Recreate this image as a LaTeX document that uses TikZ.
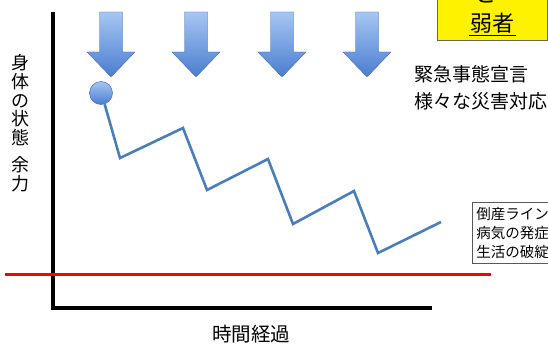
\documentclass[tikz,border=0pt]{standalone}
\usepackage{fontspec}
\setmainfont{Noto Sans CJK JP}
\definecolor{arrowtop}{HTML}{A6C6F4}
\definecolor{arrowbot}{HTML}{4A7DCF}
\definecolor{zigblue}{HTML}{4A7EBB}
\definecolor{ballline}{HTML}{3F6FBE}
\begin{document}
\begin{tikzpicture}[x=1pt,y=-1pt,
  axis/.style={line width=3.6pt, black, line join=miter},
  redline/.style={line width=3pt, red},
  zig/.style={line width=2.6pt, zigblue, line join=miter},
  bigarrow/.style={top color=arrowtop, bottom color=arrowbot, draw=arrowbot!80!black, line width=0.3pt},
  ball/.style={circle, minimum size=23pt, inner sep=0pt, top color=arrowtop, bottom color=arrowbot, draw=ballline, line width=0.5pt},
  lbl/.style={inner sep=0pt, text=black}
]
\useasboundingbox (0,0) rectangle (548,345);
\begin{scope}
\clip (0,0) rectangle (548,345);

% block arrows
\foreach \c in {111,196,282,367}{
  \shade[bigarrow] (\c-11.5,12) -- (\c+11.5,12) -- (\c+11.5,52) -- (\c+24,52)
    -- (\c,77) -- (\c-24,52) -- (\c-11.5,52) -- cycle;
}

% axes
\coordinate (ytop) at (53,12);
\coordinate (origin) at (53,308);
\coordinate (xend) at (432,308);
\draw[axis] (ytop) -- (origin) -- (xend);

% red line
\coordinate (r1) at (5,274);
\coordinate (r2) at (491,274);
\draw[redline] (r1) -- (r2);

% ball and zigzag
\node[ball] (ball) at (101,93) {};
\coordinate (z1) at (120,158);
\coordinate (z2) at (183,128);
\coordinate (z3) at (207,190);
\coordinate (z4) at (268,159);
\coordinate (z5) at (293,224);
\coordinate (z6) at (354,191);
\coordinate (z7) at (378,253);
\coordinate (z8) at (441,222);
\draw[zig] (ball.-72) -- (z1) -- (z2) -- (z3) -- (z4) -- (z5) -- (z6) -- (z7) -- (z8);

% top right yellow box
\node[draw=black!60, fill=yellow, line width=0.6pt, minimum width=110pt, minimum height=50pt, anchor=south west, inner sep=0pt] (ybox) at (437,41) {};
\node[lbl, font=\fontsize{22}{26}\selectfont] (weak) at (492,23) {弱者};
\coordinate (ul1) at (469,35.5);
\coordinate (ul2) at (516,35.5);
\draw[line width=1pt, black] (ul1) -- (ul2);
\node[lbl, font=\fontsize{22}{26}\selectfont] (to) at (485,-6) {と};

% emergency text
\node[lbl, anchor=west, align=left, font=\fontsize{19}{27}\selectfont] (emerg) at (414,88) {緊急事態宣言\\様々な災害対応};

% lower right box
\node[draw=black!65, fill=white, line width=0.6pt, anchor=north west, minimum height=61pt, text width=95pt, inner xsep=4pt, inner ysep=0pt, align=left, font=\fontsize{14.5}{19}\selectfont] (risk) at (472,202) {倒産ライン\\病気の発症\\生活の破綻};

% y label
\node[lbl, align=center, font=\fontsize{18}{18.75}\selectfont] (ylab) at (21,123) {身\\体\\の\\状\\態\\[8pt]余\\力};

% x label
\node[lbl, font=\fontsize{19.5}{22}\selectfont] (xlab) at (251,334) {時間経過};
\end{scope}
\end{tikzpicture}
\end{document}
